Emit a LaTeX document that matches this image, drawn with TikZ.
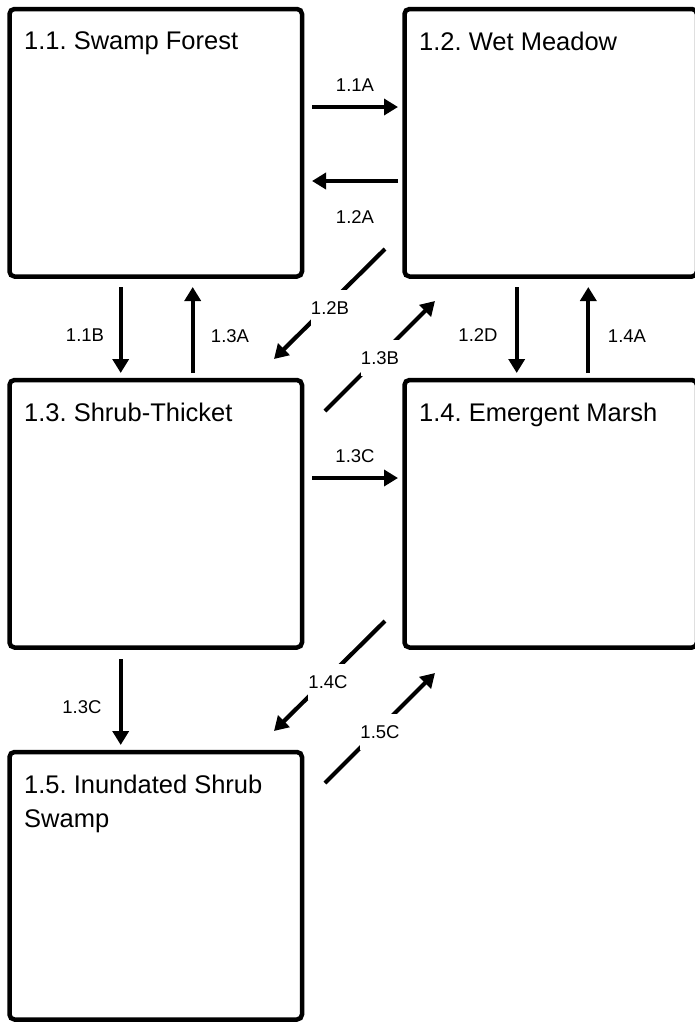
\documentclass[tikz,border=0pt]{standalone}
\usepackage{fontspec}
\setmainfont{Liberation Sans}
\usetikzlibrary{arrows.meta,calc}
\frenchspacing
\begin{document}
\begin{tikzpicture}[x=1pt,y=-1pt,
  box/.style={draw, line width=4.5pt, rounded corners=5pt, minimum width=292.5pt, minimum height=267.5pt, outer sep=0pt, inner sep=0pt},
  title/.style={anchor=north west, font=\fontsize{25.5}{34}\selectfont, inner sep=0pt, align=left},
  arr/.style={line width=4.2pt, -{Triangle[width=16pt,length=14pt]}},
  lbl/.style={font=\fontsize{18.5}{20}\selectfont, inner sep=0pt},
  dlbl/.style={lbl, fill=white, minimum width=34pt, minimum height=36pt},
]
\useasboundingbox (0,0) rectangle (695,1023);
\clip (0,0) rectangle (695,1023);

% boxes
\node[box] (b11) at (155.75,142.75) {};
\node[box] (b12) at (550.75,142.75) {};
\node[box] (b13) at (155.75,513.75) {};
\node[box] (b14) at (550.75,513.75) {};
\node[box] (b15) at (155.75,885.75) {};

% titles
\node[title] (t11) at ([shift={(14.5,22.5)}]b11.north west) {1.1. Swamp Forest};
\node[title] (t12) at ([shift={(14.5,22.5)}]b12.north west) {1.2. Wet Meadow};
\node[title] (t13) at ([shift={(14.5,22.5)}]b13.north west) {1.3. Shrub-Thicket};
\node[title] (t14) at ([shift={(14.5,22.5)}]b14.north west) {1.4. Emergent Marsh};
\node[title] (t15) at ([shift={(14.5,22.5)}]b15.north west) {1.5. Inundated Shrub\\Swamp};

% horizontal arrows
\draw[arr] ([shift={(10,98)}]b11.north east) -- ([shift={(-6.5,98)}]b12.north west);
\draw[arr] ([shift={(-6.5,172)}]b12.north west) -- ([shift={(10,172)}]b11.north east);
\draw[arr] ([shift={(10,98)}]b13.north east) -- ([shift={(-6.5,98)}]b14.north west);

% vertical arrows
\draw[arr] ([shift={(111.2,10.5)}]b11.south west) -- ([shift={(111.2,-7)}]b13.north west);
\draw[arr] ([shift={(183.2,-7)}]b13.north west) -- ([shift={(183.2,10.5)}]b11.south west);
\draw[arr] ([shift={(112.2,10.5)}]b12.south west) -- ([shift={(112.2,-7)}]b14.north west);
\draw[arr] ([shift={(183.8,-7)}]b14.north west) -- ([shift={(183.8,10.5)}]b12.south west);
\draw[arr] ([shift={(111.2,11.5)}]b13.south west) -- ([shift={(111.2,-7)}]b15.north west);

% diagonal arrows
\draw[arr] ([shift={(-19.5,-27.5)}]b12.south west) -- ([shift={(-28,-21)}]b13.north east);
\draw[arr] ([shift={(23,31)}]b13.north east) -- ([shift={(30.5,24.5)}]b12.south west);
\draw[arr] ([shift={(-19.5,-26.5)}]b14.south west) -- ([shift={(-28,-21)}]b15.north east);
\draw[arr] ([shift={(23,31)}]b15.north east) -- ([shift={(30.5,25.5)}]b14.south west);

% labels
\node[lbl] (l11A) at (355,85) {1.1A};
\node[lbl] (l12A) at (355,217) {1.2A};
\node[lbl] (l11B) at (85,335) {1.1B};
\node[lbl] (l13A) at (230,336) {1.3A};
\node[lbl] (l12D) at (478,335) {1.2D};
\node[lbl] (l14A) at (627,336) {1.4A};
\node[lbl] (l13Ch) at (355,456) {1.3C};
\node[lbl] (l13Cv) at (82,707) {1.3C};
\node[dlbl] (l12B) at (330,308) {1.2B};
\node[dlbl] (l13B) at (380,358) {1.3B};
\node[dlbl] (l14C) at (328,682) {1.4C};
\node[dlbl] (l15C) at (380,732) {1.5C};
\end{tikzpicture}
\end{document}
